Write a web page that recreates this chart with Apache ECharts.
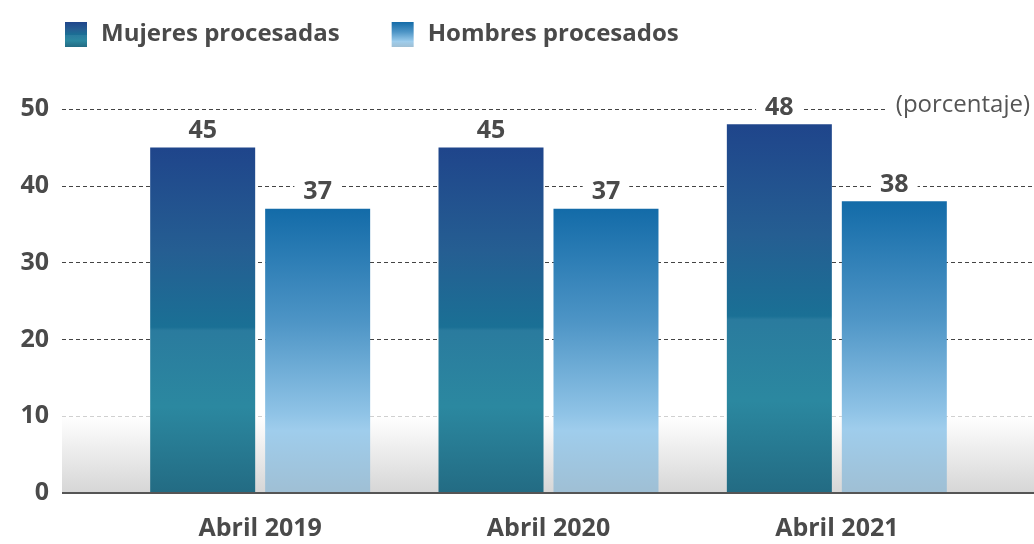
<!DOCTYPE html>
<html><head><meta charset="utf-8">
<script src="https://cdn.jsdelivr.net/npm/echarts@6/dist/echarts.min.js"></script>
<style>html,body{margin:0;padding:0;background:#fff}#c{width:1034px;height:544px}</style>
</head><body><div id="c"></div>
<script>
var categories = ['Abril 2019', 'Abril 2020', 'Abril 2021'];
var mujeres = [45, 45, 48];
var hombres = [37, 37, 38];
var yTicks = [0, 10, 20, 30, 40, 50];
var seriesNames = ['Mujeres procesadas', 'Hombres procesados'];
var unitLabel = '(porcentaje)';

var FONT = 'Open Sans';
var TXT = '#4a4a4a';
function grad(stops){ return new echarts.graphic.LinearGradient(0,0,0,1,stops); }
var gM = grad([{offset:0,color:'#1f458b'},{offset:0.3,color:'#255e92'},{offset:0.52,color:'#1a7095'},{offset:0.53,color:'#2a7b9e'},{offset:0.75,color:'#2b88a0'},{offset:1,color:'#236b83'}]);
var gH = grad([{offset:0,color:'#136ba8'},{offset:0.4,color:'#4e95c6'},{offset:0.72,color:'#8fc3e6'},{offset:0.78,color:'#9fcdec'},{offset:1,color:'#9fbfd4'}]);

var chart = echarts.init(document.getElementById('c'));
var lbl = {show:true, position:'top', distance:4, color:TXT, fontFamily:FONT, fontWeight:'bold', fontSize:25, backgroundColor:'#fff', padding:[0,9]};
chart.setOption({
  animation:false,
  legend:{left:60, top:17, itemWidth:22, itemHeight:25, itemGap:52, icon:'rect',
    textStyle:{color:TXT, fontFamily:FONT, fontWeight:'bold', fontSize:24, padding:[0,0,0,9]},
    data:[{name:seriesNames[0], itemStyle:{color:gM}},{name:seriesNames[1], itemStyle:{color:gH}}]},
  grid:[
    {left:62, right:0, top:109, bottom:51, containLabel:false},
    {left:116, right:53, top:109, bottom:51, containLabel:false}
  ],
  xAxis:[
    {type:'value', gridIndex:0, min:0, max:1, show:false},
    {type:'category', gridIndex:1, data:categories, axisLine:{show:false}, axisTick:{show:false},
     axisLabel:{color:TXT, fontFamily:FONT, fontWeight:'bold', fontSize:25, margin:23}}
  ],
  yAxis:[
    {type:'value', gridIndex:0, min:0, max:50, interval:10,
     axisLine:{show:false}, axisTick:{show:false},
     axisLabel:{color:TXT, fontFamily:FONT, fontWeight:'bold', fontSize:25, margin:13},
     splitLine:{lineStyle:{color:'#444', type:[4,3], width:1}}},
    {type:'value', gridIndex:1, min:0, max:50, interval:10, show:false, splitLine:{show:false}}
  ],
  series:[
    {type:'line', xAxisIndex:0, yAxisIndex:0, data:[], silent:true,
     markArea:{silent:true, itemStyle:{color:grad([{offset:0,color:'#ffffff'},{offset:1,color:'#d6d6d6'}])},
       data:[[{xAxis:0, yAxis:10},{xAxis:1, yAxis:0}]]},
     markLine:{silent:true, symbol:'none', label:{show:false}, lineStyle:{color:'#555', type:'solid', width:2},
       data:[[{xAxis:0, yAxis:0},{xAxis:1, yAxis:0}]]}},
    {name:seriesNames[0], type:'bar', xAxisIndex:1, yAxisIndex:1, data:mujeres, barWidth:105, barGap:'9.5%',
     itemStyle:{color:gM}, label:lbl, z:3},
    {name:seriesNames[1], type:'bar', xAxisIndex:1, yAxisIndex:1, data:hombres, barWidth:105,
     itemStyle:{color:gH}, label:lbl, z:3}
  ],
  graphic:[{type:'text', right:0, top:93, z:10, style:{text:unitLabel, fill:'#555', font:'24px "Open Sans"', backgroundColor:'#fff', padding:[0,4,0,9]}}]
});
</script></body></html>
